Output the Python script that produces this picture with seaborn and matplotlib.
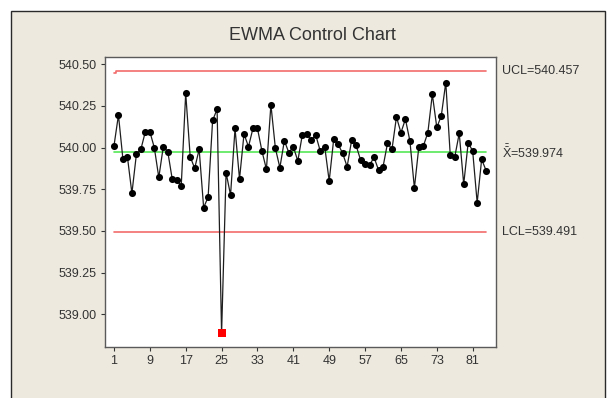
import matplotlib
matplotlib.use("Agg")
import matplotlib.pyplot as plt
import seaborn as sns
import numpy as np
import pandas as pd
from matplotlib.patches import Rectangle
from matplotlib.transforms import blended_transform_factory

# EWMA statistic for each sample
ewma = [
    540.010, 540.196, 539.930, 539.945, 539.726, 539.960, 539.990, 540.096,
    540.096, 540.000, 539.821, 540.006, 539.976, 539.810, 539.806, 539.770,
    540.326, 539.946, 539.876, 539.990, 539.640, 539.704, 540.164, 540.230,
    538.886, 539.850, 539.716, 540.115, 539.812, 540.082, 540.006, 540.116,
    540.116, 539.980, 539.870, 540.258, 539.996, 539.880, 540.042, 539.970,
    540.006, 539.920, 540.076, 540.080, 540.046, 540.076, 539.980, 540.006,
    539.800, 540.050, 540.020, 539.966, 539.886, 540.044, 540.013, 539.926,
    539.899, 539.896, 539.942, 539.866, 539.884, 540.026, 539.990, 540.184,
    540.090, 540.171, 540.040, 539.758, 540.007, 540.010, 540.090, 540.320,
    540.121, 540.191, 540.391, 539.954, 539.944, 540.086, 539.781, 540.031,
    539.979, 539.670, 539.930, 539.862,
]
center = 539.974
ucl = 540.457
lcl = 539.491
ucl_first = 540.449          # narrower limit at the first sample
out_of_control = [25]

xticks = [1, 9, 17, 25, 33, 41, 49, 57, 65, 73, 81]
yticks = [539.00, 539.25, 539.50, 539.75, 540.00, 540.25, 540.50]

n = len(ewma)
samples = np.arange(1, n + 1)
df = pd.DataFrame({"sample": samples, "ewma": ewma})
df["flag"] = df["sample"].isin(out_of_control)
limits = pd.DataFrame({
    "sample": samples,
    "ucl": [ucl_first] + [ucl] * (n - 1),
    "lcl": [lcl] * n,
    "center": [center] * n,
})

sns.set_theme(style="white")
plt.rcParams["font.family"] = ["Liberation Sans", "DejaVu Sans"]
plt.rcParams["mathtext.fontset"] = "custom"
plt.rcParams["mathtext.rm"] = "Liberation Sans"

W, H = 608, 398
fig = plt.figure(figsize=(W / 100, H / 100), dpi=100, facecolor="white")
fig.patches.append(Rectangle((11 / W, -0.02), (605 - 11) / W, (H - 11) / H + 0.02,
                             transform=fig.transFigure, facecolor="#EDE9DF",
                             edgecolor="#2a2a2a", lw=1.0, zorder=-5))

ax = fig.add_axes([105 / W, 1 - 347 / H, 391 / W, 290 / H], zorder=2)
ax.set_facecolor("white")

text_col = "#333333"
red = "#F26B6B"
green = "#55E855"

sns.lineplot(data=limits, x="sample", y="ucl", color=red, lw=1.2,
             drawstyle="steps-mid", ax=ax, zorder=1)
sns.lineplot(data=limits, x="sample", y="lcl", color=red, lw=1.2, ax=ax, zorder=1)
sns.lineplot(data=limits, x="sample", y="center", color=green, lw=1.2, ax=ax, zorder=1)

sns.lineplot(data=df, x="sample", y="ewma", color="#1e1e1e", lw=0.9,
             sort=False, ax=ax, zorder=2)
sns.scatterplot(data=df[~df["flag"]], x="sample", y="ewma", color="black",
                marker="o", s=26, linewidth=0, ax=ax, zorder=3)
sns.scatterplot(data=df[df["flag"]], x="sample", y="ewma", color="#FF0000",
                marker="s", s=26, linewidth=0, ax=ax, zorder=4)

ax.set_xlim(-1.0, 86.2)
ax.set_ylim(538.804, 540.544)
ax.set_xticks(xticks)
ax.set_xticklabels([str(t) for t in xticks])
ax.set_yticks(yticks)
ax.set_yticklabels([f"{t:.2f}" for t in yticks])
ax.set_xlabel("")
ax.set_ylabel("")
ax.tick_params(axis="both", which="major", bottom=True, left=True, direction="out",
               length=3, width=0.8, color=text_col, labelsize=9,
               labelcolor=text_col, pad=3)
for s in ax.spines.values():
    s.set_color("#5a5a5a")
    s.set_linewidth(1.0)

trans = blended_transform_factory(ax.transAxes, ax.transData)
lab_kw = dict(transform=trans, ha="left", va="center", fontsize=9,
              color=text_col, clip_on=False)
ax.text(1.015, ucl, f"UCL={ucl:.3f}", **lab_kw)
ax.text(1.015, center, r"$\bar{\bar{\mathrm{X}}}$" + f"={center:.3f}", **lab_kw)
ax.text(1.015, lcl, f"LCL={lcl:.3f}", **lab_kw)

fig.text(312 / W, 1 - 36 / H, "EWMA Control Chart", ha="center", va="center",
         fontsize=13, color=text_col)

fig.savefig("out.png", dpi=100, facecolor=fig.get_facecolor())
